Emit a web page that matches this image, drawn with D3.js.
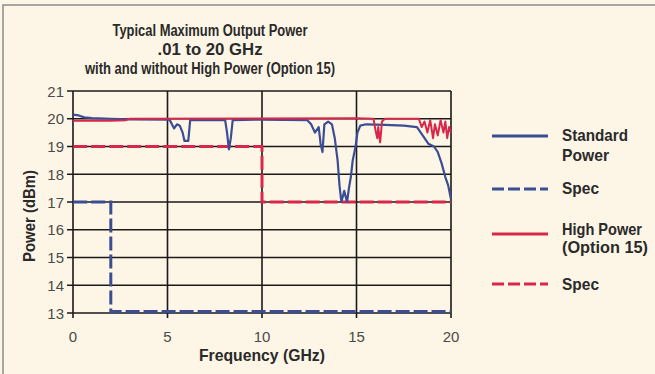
<!DOCTYPE html>
<html>
<head>
  <script src="https://d3js.org/d3.v7.min.js"></script>
  <style>
    body { margin: 0; padding: 0; background: #fdf6e6; }
    svg { display: block; font-family: "Liberation Sans", Arimo, Arial, sans-serif; }
    .tick-label { fill: #4a4a4a; font-size: 15px; }
    .bold { font-weight: bold; fill: #2a2a2a; }
  </style>
</head>
<body>
<svg id="chart" width="655" height="374"></svg>
<script>
  // values: [frequency GHz, power dBm]
  const standardPower = [
    [0.01, 20.15], [0.3, 20.12], [0.6, 20.05], [1.0, 20.02], [2.0, 20.0], [3.0, 19.98],
    [5.1, 19.97], [5.2, 19.85], [5.35, 19.65], [5.5, 19.8], [5.65, 19.75], [5.8, 19.5],
    [5.9, 19.2], [6.1, 19.2], [6.2, 19.95], [8.05, 19.95], [8.15, 19.5], [8.25, 18.9],
    [8.35, 19.3], [8.45, 19.95], [10, 19.97], [12.4, 19.95], [12.6, 19.8], [12.8, 19.5],
    [13.0, 19.7], [13.1, 19.1], [13.2, 18.8], [13.3, 19.8], [13.5, 19.9], [13.7, 19.8],
    [13.85, 19.3], [14.0, 18.5], [14.1, 17.6], [14.2, 17.0], [14.35, 17.4], [14.5, 17.0],
    [14.6, 17.5], [14.7, 17.9], [14.8, 18.5], [14.95, 19.0], [15.05, 19.5], [15.2, 19.75],
    [15.5, 19.8], [16.5, 19.78], [17.5, 19.75], [18.2, 19.7], [18.4, 19.5], [18.6, 19.3],
    [18.8, 19.1], [19.1, 19.0], [19.3, 18.8], [19.5, 18.4], [19.7, 17.9], [19.85, 17.6],
    [20.0, 17.1]
  ];
  const highPower = [
    [0.01, 19.93], [2.0, 19.93], [2.8, 19.95], [3, 20.0], [15, 20.02], [15.9, 20.0],
    [16.0, 19.6], [16.1, 19.3], [16.15, 19.7], [16.25, 19.15], [16.35, 19.9], [16.5, 20.0],
    [18.3, 20.0], [18.45, 19.7], [18.6, 19.9], [18.75, 19.5], [18.9, 19.95], [19.05, 19.3],
    [19.15, 19.8], [19.3, 19.4], [19.45, 19.95], [19.6, 19.5], [19.7, 19.9], [19.8, 19.3],
    [19.9, 19.7], [20.0, 19.5]
  ];
  const standardSpec = [[0.01, 17], [2, 17], [2, 13.05], [20, 13.05]];
  const highSpec = [[0.01, 19], [10, 19], [10, 17], [20, 17]];

  const xTicks = [0, 5, 10, 15, 20];
  const yTicks = [13, 14, 15, 16, 17, 18, 19, 20, 21];
  const titleLines = ["Typical Maximum Output Power", ".01 to 20 GHz", "with and without High Power (Option 15)"];
  const legendLabels = [["Standard", "Power"], ["Spec"], ["High Power", "(Option 15)"], ["Spec"]];

  const blue = "#3b4d94", red = "#d8274b";
  const legendStyle = [
    { color: blue, dash: null, y: 136, text: [141, 161] },
    { color: blue, dash: "12,4", y: 189, text: [194] },
    { color: red, dash: null, y: 234, text: [235, 253] },
    { color: red, dash: "12,4", y: 284, text: [290] }
  ];

  const svg = d3.select("#chart");
  const x = d3.scaleLinear().domain([0, 20]).range([73, 451]);
  const y = d3.scaleLinear().domain([13, 21]).range([313, 91]);

  // condensed bold text: squeeze to the width the original face takes
  function narrow(parent, str, px, py, size, width, anchor) {
    return parent.append("text").attr("class", "bold").attr("font-size", size)
      .attr("x", px).attr("y", py).attr("text-anchor", anchor || "start")
      .attr("textLength", width).attr("lengthAdjust", "spacingAndGlyphs").text(str);
  }

  svg.append("rect").attr("width", 655).attr("height", 374).attr("fill", "#fdf6e6");
  svg.append("path").attr("d", "M3,380 V5 H660").attr("fill", "none").attr("stroke", "#8a8a8a").attr("stroke-width", 1.5);

  // title
  const titleW = [195, 105, 250];
  titleLines.forEach((t, i) => narrow(svg, t, 210, 36 + i * 19, 16, titleW[i], "middle"));

  // grid
  const grid = svg.append("g").attr("stroke", "#1a1a1a").attr("stroke-width", 1.6);
  grid.selectAll(".h").data(yTicks).join("line")
    .attr("x1", x(0) - 6).attr("x2", x(20)).attr("y1", d => y(d)).attr("y2", d => y(d));
  grid.selectAll(".v").data(xTicks).join("line")
    .attr("x1", d => x(d)).attr("x2", d => x(d)).attr("y1", y(21)).attr("y2", y(13) + 5);

  // tick labels
  svg.append("g").selectAll("text").data(yTicks).join("text")
    .attr("class", "tick-label").attr("text-anchor", "end")
    .attr("x", 64).attr("y", d => y(d) + 5.5).text(d => d);
  svg.append("g").selectAll("text").data(xTicks).join("text")
    .attr("class", "tick-label").attr("text-anchor", "middle")
    .attr("x", d => x(d)).attr("y", 342).text(d => d);

  // axis titles
  narrow(svg, "Frequency (GHz)", x(10), 361, 17, 126, "middle");
  const yTitle = svg.append("g").attr("transform", "translate(35,216) rotate(-90)");
  narrow(yTitle, "Power (dBm)", 0, 0, 16.5, 92, "middle");

  const line = d3.line().x(d => x(d[0])).y(d => y(d[1]));

  svg.append("path").datum(standardSpec).attr("d", line).attr("fill", "none")
    .attr("stroke", blue).attr("stroke-width", 3).attr("stroke-dasharray", "14,4");
  svg.append("path").datum(highSpec).attr("d", line).attr("fill", "none")
    .attr("stroke", red).attr("stroke-width", 3).attr("stroke-dasharray", "14,4");
  svg.append("path").datum(standardPower).attr("d", line).attr("fill", "none")
    .attr("stroke", blue).attr("stroke-width", 2.2).attr("stroke-linejoin", "round");
  svg.append("path").datum(highPower).attr("d", line).attr("fill", "none")
    .attr("stroke", red).attr("stroke-width", 2).attr("stroke-linejoin", "round");

  // legend
  const legendW = { "Standard": 66, "Power": 47, "Spec": 37, "High Power": 80, "(Option 15)": 86 };
  const lg = svg.append("g");
  legendLabels.forEach((lines, i) => {
    const st = legendStyle[i];
    lg.append("line").attr("x1", 492).attr("x2", 548).attr("y1", st.y).attr("y2", st.y)
      .attr("stroke", st.color).attr("stroke-width", 3)
      .attr("stroke-dasharray", st.dash);
    lines.forEach((t, k) => narrow(lg, t, 562, st.text[k], 16.5, legendW[t]));
  });
</script>
</body>
</html>
